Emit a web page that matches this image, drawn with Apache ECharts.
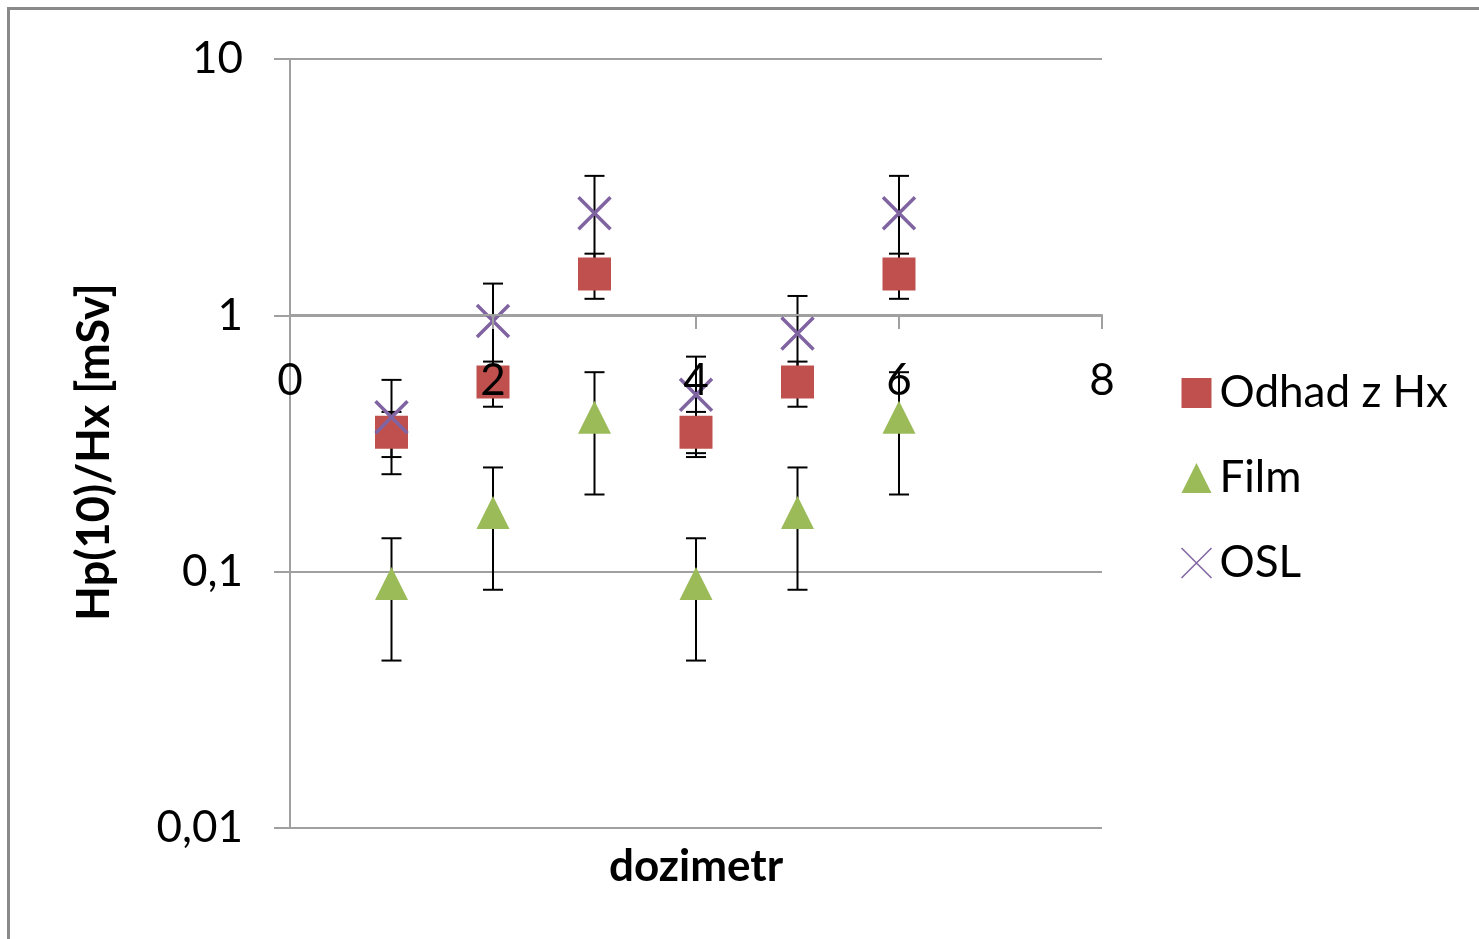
<!DOCTYPE html>
<html>
<head>
<meta charset="utf-8">
<style>
  html, body { margin: 0; padding: 0; background: #ffffff; }
  #chart { width: 1479px; height: 939px; }
</style>
<script src="https://cdn.jsdelivr.net/npm/echarts@6/dist/echarts.min.js"></script>
</head>
<body>
<div id="chart"></div>
<script>
// dosimeter numbers
const dosimeters = [1, 2, 3, 4, 5, 6];

// Odhad z Hx with symmetric errors
const odhadValues = [0.35, 0.55, 1.45, 0.35, 0.55, 1.45];
const odhadErrors = [0.07, 0.11, 0.29, 0.07, 0.11, 0.29];

// Film with symmetric errors
const filmValues = [0.09, 0.17, 0.40, 0.09, 0.17, 0.40];
const filmErrors = [0.045, 0.085, 0.20, 0.045, 0.085, 0.20];

// OSL with symmetric errors
const oslValues = [0.40, 0.95, 2.50, 0.49, 0.85, 2.50];
const oslErrors = [0.16, 0.38, 1.00, 0.20, 0.34, 1.00];

// axis tick labels (decimal comma)
const yTickLabels = { 10: '10', 1: '1', 0.1: '0,1', 0.01: '0,01' };
const xTicks = [0, 2, 4, 6, 8];

const FONT = 'Lato';
const RED = '#C0504D';
const GREEN = '#9BBB59';
const PURPLE = '#8064A2';
const GRID_GRAY = '#a0a0a0';
const X_PATH = 'path://M0,0L20,20M20,0L0,20';

function pointData(values) {
  return dosimeters.map((d, i) => [d, values[i]]);
}
function errorData(values, errors) {
  return dosimeters.map((d, i) => [d, values[i] - errors[i], values[i] + errors[i]]);
}

// vertical error bar with caps
function renderErrorBar(params, api) {
  const x = api.value(0);
  const lo = api.coord([x, api.value(1)]);
  const hi = api.coord([x, api.value(2)]);
  const half = 10;
  const style = { stroke: '#000000', lineWidth: 2, fill: null };
  return {
    type: 'group',
    children: [
      { type: 'line', shape: { x1: hi[0], y1: hi[1], x2: lo[0], y2: lo[1] }, style },
      { type: 'line', shape: { x1: hi[0] - half, y1: hi[1], x2: hi[0] + half, y2: hi[1] }, style },
      { type: 'line', shape: { x1: lo[0] - half, y1: lo[1], x2: lo[0] + half, y2: lo[1] }, style }
    ]
  };
}

const chart = echarts.init(document.getElementById('chart'), null, { renderer: 'canvas' });

const option = {
  backgroundColor: '#ffffff',
  animation: false,
  textStyle: { fontFamily: FONT },
  grid: { left: 290, right: 377, top: 59, bottom: 111, containLabel: false },
  xAxis: {
    type: 'value',
    min: 0,
    max: 8,
    interval: 2,
    position: 'bottom',
    offset: -513,
    z: 10,
    axisLine: { onZero: false, lineStyle: { color: GRID_GRAY, width: 2 } },
    axisTick: { show: true, length: 14, lineStyle: { color: GRID_GRAY, width: 2 } },
    axisLabel: {
      color: '#000000', fontSize: 44, fontFamily: FONT, margin: 44,
      formatter: v => xTicks.includes(v) ? String(v) : ''
    },
    splitLine: { show: false }
  },
  yAxis: {
    type: 'log',
    logBase: 10,
    min: 0.01,
    max: 10,
    axisLine: { show: true, lineStyle: { color: GRID_GRAY, width: 2 } },
    axisTick: { show: true, inside: false, length: 16, lineStyle: { color: GRID_GRAY, width: 2 } },
    minorTick: { show: false },
    axisLabel: {
      color: '#000000', fontSize: 44, fontFamily: FONT, margin: 47,
      formatter: v => {
        const key = Object.keys(yTickLabels).find(k => Math.abs(Number(k) - v) < v * 1e-6);
        return key !== undefined ? yTickLabels[key] : '';
      }
    },
    splitLine: { show: true, lineStyle: { color: GRID_GRAY, width: 2 } }
  },
  legend: {
    orient: 'vertical',
    left: 1174,
    top: 366,
    itemWidth: 30,
    itemHeight: 30,
    itemGap: 41,
    textStyle: { fontSize: 44, fontFamily: FONT, color: '#000000', padding: [0, 0, 0, 3] },
    data: [
      { name: 'Odhad z Hx', icon: 'rect' },
      { name: 'Film', icon: 'triangle' },
      { name: 'OSL', icon: X_PATH, itemStyle: { color: 'none', borderColor: PURPLE, borderWidth: 1.5 } }
    ]
  },
  graphic: [
    {
      type: 'rect',
      shape: { x: 8.5, y: 8.5, width: 1500, height: 1000 },
      style: { fill: 'none', stroke: '#8a8a8a', lineWidth: 3 },
      silent: true, z: 100
    },
    {
      type: 'text',
      x: 696, y: 867,
      style: {
        text: 'dozimetr', textAlign: 'center', textVerticalAlign: 'middle',
        font: 'bold 44px Lato', fill: '#000000'
      }
    },
    {
      type: 'text',
      x: 94, y: 452, rotation: Math.PI / 2,
      style: {
        text: 'Hp(10)/Hx [mSv]', textAlign: 'center', textVerticalAlign: 'middle',
        font: 'bold 45px Lato', fill: '#000000'
      }
    }
  ],
  series: [
    {
      name: 'Odhad z Hx err', type: 'custom', renderItem: renderErrorBar,
      data: errorData(odhadValues, odhadErrors), encode: { x: 0, y: [1, 2] }, z: 1, silent: true
    },
    {
      name: 'Film err', type: 'custom', renderItem: renderErrorBar,
      data: errorData(filmValues, filmErrors), encode: { x: 0, y: [1, 2] }, z: 1, silent: true
    },
    {
      name: 'OSL err', type: 'custom', renderItem: renderErrorBar,
      data: errorData(oslValues, oslErrors), encode: { x: 0, y: [1, 2] }, z: 1, silent: true
    },
    {
      name: 'Odhad z Hx', type: 'scatter', symbol: 'rect', symbolSize: 33,
      itemStyle: { color: RED, opacity: 1 }, data: pointData(odhadValues), z: 3
    },
    {
      name: 'Film', type: 'scatter', symbol: 'triangle', symbolSize: 33,
      itemStyle: { color: GREEN, opacity: 1 }, data: pointData(filmValues), z: 3
    },
    {
      name: 'OSL', type: 'scatter', symbol: X_PATH, symbolSize: 32,
      itemStyle: { color: 'none', borderColor: PURPLE, borderWidth: 3.5, opacity: 1 },
      data: pointData(oslValues), z: 4
    }
  ]
};

chart.setOption(option);
</script>
</body>
</html>
